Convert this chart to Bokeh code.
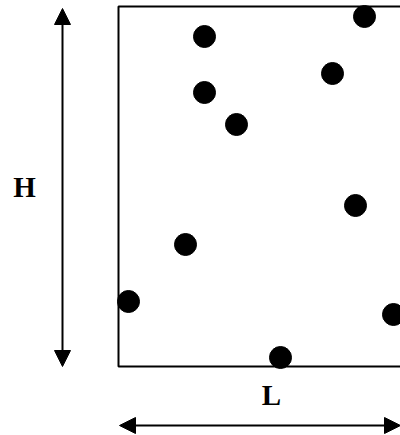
from bokeh.plotting import figure
from bokeh.models import Range1d, Arrow, NormalHead, ColumnDataSource
from bokeh.core.properties import value
from bokeh.embed import file_html
from bokeh.resources import INLINE

# Drawing units: origin at the lower-left corner of the box
box_left = 0
box_right = 300
box_bottom = 0
box_top = 360

# dimension arrows
h_arrow_x = -56
h_arrow_from = 0
h_arrow_to = 358
l_arrow_y = -59
l_arrow_from = 1
l_arrow_to = 282

# scattered points
pt_x = [246, 86, 214, 86, 118, 237, 67, 10, 275, 162]
pt_y = [350, 330, 293, 274, 242, 161, 122, 65, 52, 9]

# labels
label_text = ["H", "L"]
label_x = [-94, 153]
label_y = [180, -28]

p = figure(width=400, height=435, output_backend="svg", toolbar_location=None,
           x_range=Range1d(-118, 282), y_range=Range1d(-69, 366),
           x_axis_location=None, y_axis_location=None, min_border=0,
           outline_line_color=None, margin=(0, 0, 0, 0))
p.grid.visible = False
p.background_fill_color = "white"
p.border_fill_color = "white"

p.scatter(x=pt_x, y=pt_y, size=22, color="black")

p.quad(left=[box_left], right=[box_right], bottom=[box_bottom], top=[box_top],
       fill_color=None, line_color="black", line_width=2)

def head():
    return NormalHead(size=16, fill_color="black", line_color="black", line_width=1)

p.add_layout(Arrow(start=head(), end=head(), x_start=h_arrow_x, y_start=h_arrow_from,
                   x_end=h_arrow_x, y_end=h_arrow_to, line_width=2, line_color="black"))
p.add_layout(Arrow(start=head(), end=head(), x_start=l_arrow_from, y_start=l_arrow_y,
                   x_end=l_arrow_to, y_end=l_arrow_y, line_width=2, line_color="black"))

src = ColumnDataSource(dict(x=label_x, y=label_y, t=label_text))
p.text(x="x", y="y", text="t", source=src, text_font=value("Liberation Serif"),
       text_font_style="bold", text_font_size="29px", text_align="center",
       text_baseline="middle", text_color="black")

open("out.html", "w").write(file_html(p, INLINE))
